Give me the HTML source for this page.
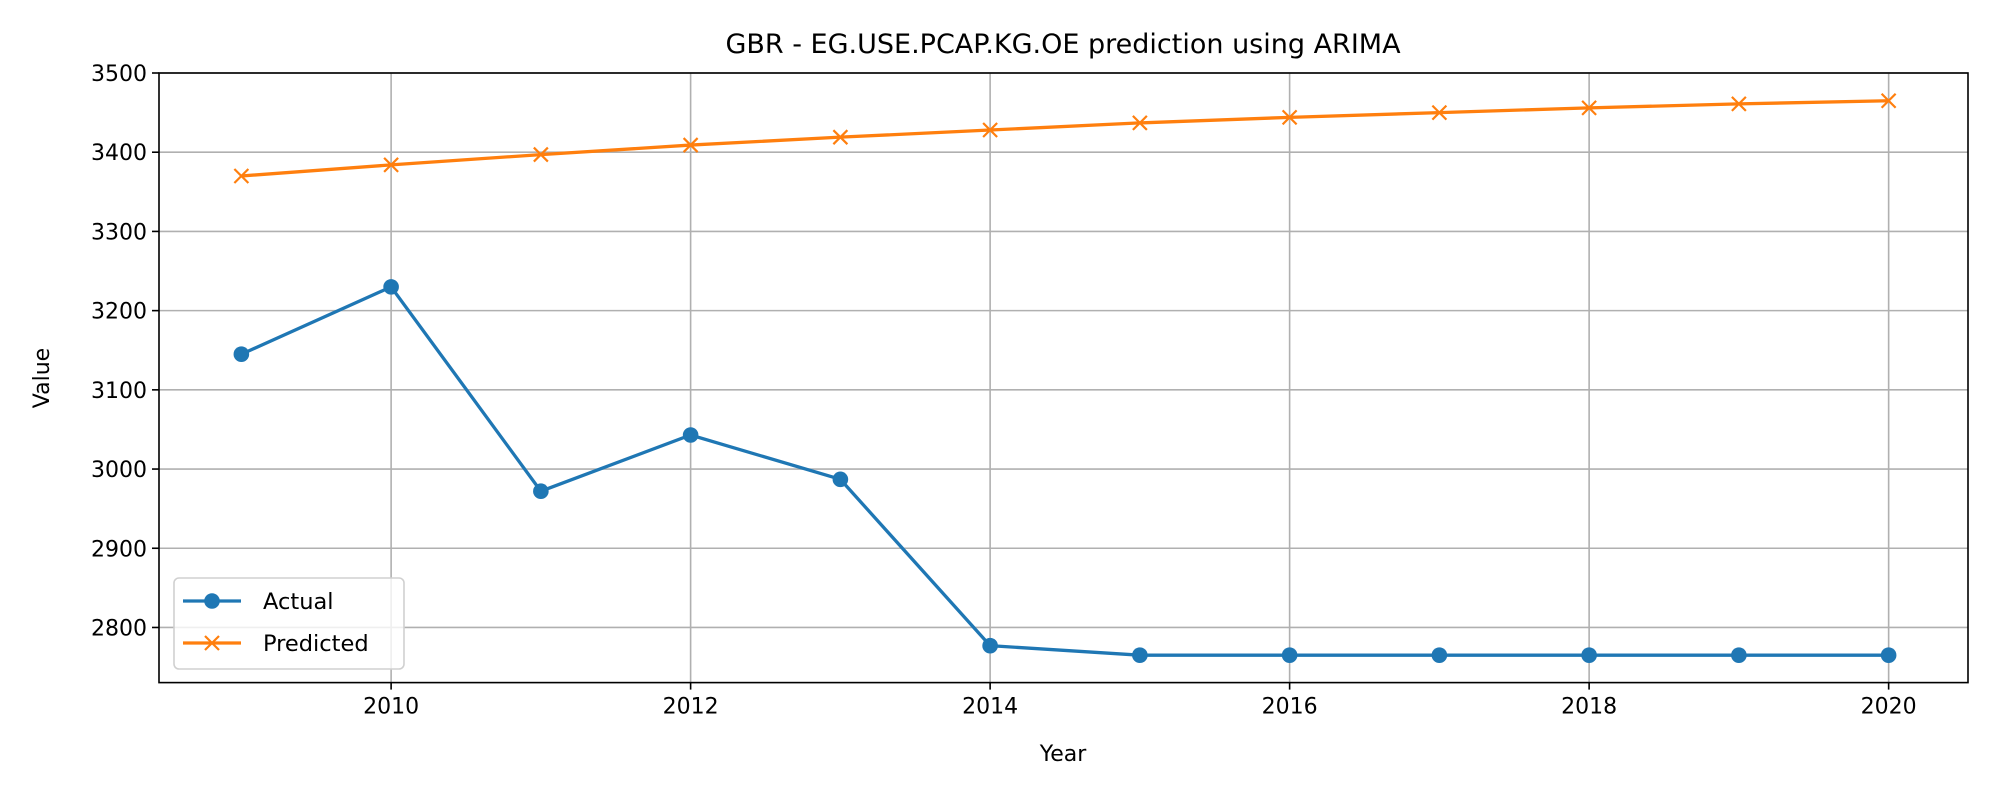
<!DOCTYPE html>
<html><head><meta charset="utf-8"><style>
html,body{margin:0;padding:0;background:#fff;}
svg{display:block;font-family:"DejaVu Sans","Liberation Sans",sans-serif;}
</style></head><body>
<svg id="chart" width="2000" height="800">
<text x="1063" y="53" text-anchor="middle" font-size="27" fill="#000">GBR - EG.USE.PCAP.KG.OE prediction using ARIMA</text>
<text x="1063" y="761" text-anchor="middle" font-size="22" fill="#000">Year</text>
<text transform="translate(49,378) rotate(-90)" text-anchor="middle" font-size="22" fill="#000">Value</text>
<g id="grid"></g><g id="series"></g><g id="axes"></g>
</svg>
<script>
const years = [2009,2010,2011,2012,2013,2014,2015,2016,2017,2018,2019,2020];
const actual = [3145,3230,2972,3043,2987,2777,2765,2765,2765,2765,2765,2765];
const predicted = [3370,3384,3397,3409,3419,3428,3437,3444,3450,3456,3461,3465];
const xTicks = [2010,2012,2014,2016,2018,2020];
const yTicks = [2800,2900,3000,3100,3200,3300,3400,3500];

const L=159,R=1968,T=73,B=682.6;
const xMin=2008.45,xMax=2020.53,yMin=2730.4,yMax=3500;
const X=v=>L+(v-xMin)/(xMax-xMin)*(R-L);
const Y=v=>B-(v-yMin)/(yMax-yMin)*(B-T);
const NS='http://www.w3.org/2000/svg';
function mk(tag,attrs,parent){const e=document.createElementNS(NS,tag);for(const k in attrs)e.setAttribute(k,attrs[k]);parent.appendChild(e);return e;}
const grid=document.getElementById('grid'),series=document.getElementById('series'),axes=document.getElementById('axes');
xTicks.forEach(t=>{
  const g=mk('line',{x1:X(t),x2:X(t),y1:T,y2:B,stroke:'#b0b0b0','stroke-width':1.6},grid);
  
  
  mk('line',{x1:X(t),x2:X(t),y1:B,y2:B+7,stroke:'#000','stroke-width':1.6},axes);
  const tx=mk('text',{x:X(t),y:B+31,'text-anchor':'middle','font-size':22},axes);
  tx.textContent=t;
  
  
});
yTicks.forEach(t=>{
  const g=mk('line',{x1:L,x2:R,y1:Y(t),y2:Y(t),stroke:'#b0b0b0','stroke-width':1.6},grid);
  
  
  mk('line',{x1:L-7,x2:L,y1:Y(t),y2:Y(t),stroke:'#000','stroke-width':1.6},axes);
  const tx=mk('text',{x:L-12,y:Y(t)+8,'text-anchor':'end','font-size':22},axes);
  tx.textContent=t;
  
  
});
const frame=mk('rect',{x:L,y:T,width:R-L,height:B-T,fill:'none',stroke:'#000','stroke-width':1.6},axes);


const pa=mk('polyline',{points:years.map((y,i)=>X(y)+','+Y(actual[i])).join(' '),fill:'none',stroke:'#1f77b4','stroke-width':3.3},series);


years.forEach((y,i)=>{const c=mk('circle',{cx:X(y),cy:Y(actual[i]),r:7.8,fill:'#1f77b4'},series);
  
  });
const pp=mk('polyline',{points:years.map((y,i)=>X(y)+','+Y(predicted[i])).join(' '),fill:'none',stroke:'#ff7f0e','stroke-width':3.3},series);


function cross(cx,cy,p){const s=7;mk('path',{d:`M${cx-s},${cy-s}L${cx+s},${cy+s}M${cx-s},${cy+s}L${cx+s},${cy-s}`,stroke:'#ff7f0e','stroke-width':2.2,fill:'none'},p);}
years.forEach((y,i)=>{const g=mk('g',{},series);
  
  
  cross(X(y),Y(predicted[i]),g);});
// legend
const lg=mk('g',{},axes);


mk('rect',{x:174,y:578,width:230,height:91,rx:5,fill:'rgba(255,255,255,0.8)',stroke:'#d0d0d0','stroke-width':1.6},lg);
mk('line',{x1:183,x2:241,y1:601,y2:601,stroke:'#1f77b4','stroke-width':3.3},lg);
mk('circle',{cx:212,cy:601,r:7.8,fill:'#1f77b4'},lg);
const t1=mk('text',{x:263,y:609,'font-size':22.5},lg);t1.textContent='Actual';


mk('line',{x1:183,x2:241,y1:643,y2:643,stroke:'#ff7f0e','stroke-width':3.3},lg);
cross(212,643,lg);
const t2=mk('text',{x:263,y:651,'font-size':22.5},lg);t2.textContent='Predicted';


</script>
</body></html>
